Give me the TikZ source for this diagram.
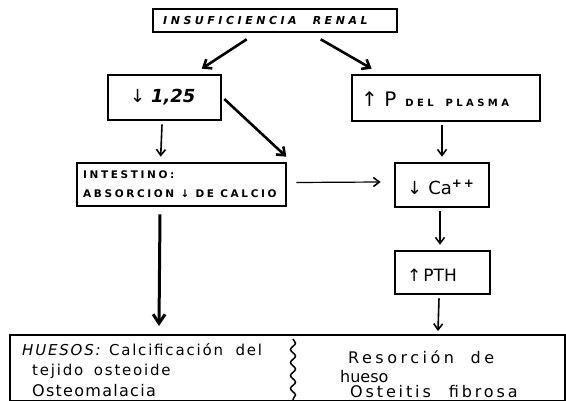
\documentclass[tikz,border=0pt]{standalone}
\usepackage{fontspec}
\setmainfont{DejaVu Sans}
\usetikzlibrary{arrows.meta,calc,decorations.pathmorphing}
\begin{document}
\begin{tikzpicture}[x=1pt,y=-1pt,
  box/.style={draw,line width=2.6pt,inner sep=0pt},
  arr/.style={line width=1.6pt,-{Straight Barb[length=6pt,width=9pt,line width=1.6pt]}},
  tharr/.style={line width=2.6pt,-{Straight Barb[length=7pt,width=11pt,line width=2.6pt]}},
  bigarr/.style={line width=3pt,-{Straight Barb[length=9pt,width=12pt,line width=3pt]}},
  txt/.style={inner sep=0pt,anchor=west}
]
\useasboundingbox (0,0) rectangle (566,401);
% boxes
\node[box,minimum width=244pt,minimum height=23pt] (top) at (275,20.5) {};
\node[box,minimum width=113pt,minimum height=45pt] (b125) at (164.5,97.5) {};
\node[box,minimum width=188pt,minimum height=46pt] (plasma) at (446,98) {};
\node[box,minimum width=209pt,minimum height=43pt] (intest) at (181.5,184.5) {};
\node[box,minimum width=94pt,minimum height=44pt] (ca) at (442,185) {};
\node[box,minimum width=95pt,minimum height=43pt] (pth) at (442.5,272.5) {};
\node[box,line width=2pt,minimum width=555pt,minimum height=66pt] (bottom) at (287.5,368) {};
\coordinate (divtop) at (293,339);
\coordinate (divbot) at (293,400);
\draw[line width=1.5pt,decoration={snake,amplitude=2.5pt,segment length=13pt},decorate] (divtop) -- (divbot);
% texts
\node[txt] (ttop) at (163,20) {\fontsize{11}{12}\selectfont\bfseries\itshape\addfontfeature{LetterSpace=32}INSUFICIENCIA\hspace{16pt}RENAL};
\node[txt] (t125) at (130,97) {\fontsize{18}{20}\selectfont ↓ \bfseries\itshape 1,25};
\node[txt] (tplasma) at (361,99) {\fontsize{20}{22}\selectfont ↑ P\hspace{9pt}\fontsize{10}{12}\selectfont\bfseries\addfontfeature{LetterSpace=34}DEL\hspace{12pt}PLASMA};
\node[txt] (tint1) at (83,175) {\fontsize{10.5}{12}\selectfont\bfseries\addfontfeature{LetterSpace=25}INTESTINO:};
\node[txt] (tint2) at (83,194) {\fontsize{10.5}{12}\selectfont\bfseries\addfontfeature{LetterSpace=25}ABSORCION ↓ DE CALCIO};
\node[txt] (tca) at (407,187) {\fontsize{18}{20}\selectfont ↓\hspace{6pt}Ca\raisebox{7pt}{\fontsize{12}{12}\selectfont\bfseries +\,+}};
\node[txt] (tpth) at (407,275) {\fontsize{17}{18}\selectfont ↑\hspace{2pt}PTH};
\node[txt] (tb1) at (22,350) {\fontsize{15}{16}\selectfont\addfontfeature{LetterSpace=12}\textit{HUESOS:} Calcificación\hspace{6pt} del};
\node[txt] (tb2) at (32,371) {\fontsize{15}{16}\selectfont\addfontfeature{LetterSpace=12}tejido\hspace{4pt} osteoide};
\node[txt] (tb3) at (32,391) {\fontsize{16}{16}\selectfont\addfontfeature{LetterSpace=8}Osteomalacia};
\node[txt] (tr1) at (348,357) {\fontsize{16}{16}\selectfont\addfontfeature{LetterSpace=22}Resorción\hspace{8pt} de};
\node[txt] (tr2) at (340,377) {\fontsize{16}{16}\selectfont hueso};
\node[txt] (tr3) at (350,392) {\fontsize{16}{16}\selectfont\addfontfeature{LetterSpace=18}Osteitis\hspace{10pt} fibrosa};
% connectors
\draw[tharr] ($(top.south west)+(95,6)$) -- ($(b125.north west)+(95,-5)$);
\draw[tharr] ($(top.south west)+(169,6)$) -- ($(plasma.north west)+(21,-5)$);
\draw[arr] ($(b125.south)+(-2.5,3)$) -- ($(intest.north west)+(85,-5)$);
\draw[tharr] ($(b125.east)+(2,1.5)$) -- ($(intest.north east)+(-1,-5)$);
\draw[arr,line width=2pt] ($(plasma.south -| ca.north)+(0,3)$) -- ($(ca.north)+(0,-5)$);
\draw[arr,line width=1.2pt] ($(intest.east)+(9,-2)$) -- ($(ca.west)+(-13,-3)$);
\draw[arr,line width=2pt] ($(ca.south)+(-2,3)$) -- ($(pth.north)+(-2.5,-5)$);
\draw[arr] ($(pth.south)+(-3.5,3)$) -- ($(bottom.north west)+(429,-3)$);
\draw[bigarr] ($(intest.south)+(-21.5,7)$) -- ($(bottom.north west)+(150,-8)$);
\end{tikzpicture}
\end{document}
